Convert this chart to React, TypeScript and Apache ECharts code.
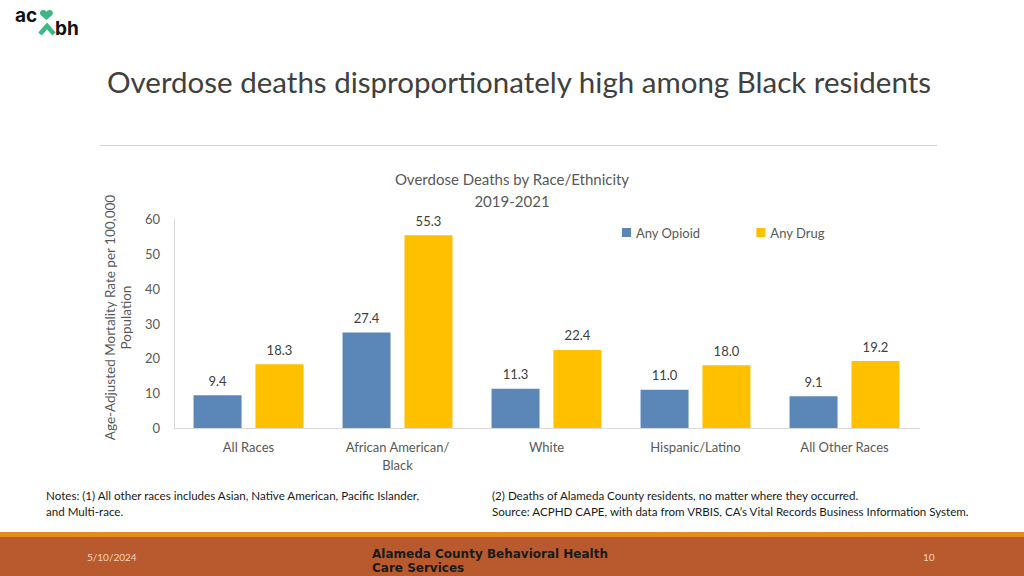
import React, { useEffect, useRef } from "react";
import * as echarts from "echarts";

const categories = ["All Races", "African American/\nBlack", "White", "Hispanic/Latino", "All Other Races"];
const anyOpioid = [9.4, 27.4, 11.3, 11.0, 9.1];
const anyDrug = [18.3, 55.3, 22.4, 18.0, 19.2];
const seriesNames = ["Any Opioid", "Any Drug"];
const yTicks = { min: 0, max: 60, interval: 10 };

const FONT = "Lato, 'Open Sans', sans-serif";

echarts.graphic.registerShape(
  "heart",
  echarts.graphic.extendPath(
    "M12 22 L3.5 13.5 C0.5 10.5 1 4 6.5 3.5 C9.5 3.2 11.2 5 12 6.8 C12.8 5 14.5 3.2 17.5 3.5 C23 4 23.5 10.5 20.5 13.5 Z",
    {}
  )
);

export default function App() {
  const ref = useRef<HTMLDivElement>(null);
  useEffect(() => {
    document.body.style.margin = "0";
    const chart = echarts.init(ref.current!, null, { renderer: "svg" });
    chart.setOption({
      animation: false,
      backgroundColor: "#ffffff",
      textStyle: { fontFamily: FONT },
      title: {
        text: "Overdose Deaths by Race/Ethnicity\n2019-2021",
        left: "center",
        top: 163,
        textStyle: { fontSize: 15, fontWeight: "normal", color: "#595959", lineHeight: 22, fontFamily: FONT },
      },
      legend: {
        data: seriesNames,
        left: 617,
        top: 221,
        itemWidth: 9,
        itemHeight: 9,
        itemGap: 56,
        icon: "rect",
        textStyle: { fontSize: 13, color: "#595959", fontFamily: FONT },
      },
      grid: { left: 174, right: 105, top: 219, bottom: 148, containLabel: false },
      xAxis: {
        type: "category",
        data: categories,
        axisLine: { show: true, lineStyle: { color: "#d9d9d9", width: 1 } },
        axisTick: { show: false },
        axisLabel: { fontSize: 13, color: "#595959", margin: 10, lineHeight: 18, fontFamily: FONT, interval: 0 },
      },
      yAxis: {
        type: "value",
        min: yTicks.min,
        max: yTicks.max,
        interval: yTicks.interval,
        axisLine: { show: true, lineStyle: { color: "#d9d9d9", width: 1 } },
        axisTick: { show: false },
        splitLine: { show: false },
        axisLabel: { fontSize: 13, color: "#595959", margin: 14, fontFamily: FONT },
        name: "Age-Adjusted Mortality Rate per 100,000\nPopulation",
        nameLocation: "middle",
        nameGap: 38,
        nameRotate: 90,
        nameTextStyle: { fontSize: 13.5, color: "#595959", lineHeight: 16, fontFamily: FONT, padding: [0, 0, 0, 12] },
      },
      series: [
        {
          name: seriesNames[0],
          type: "bar",
          data: anyOpioid,
          barWidth: 48,
          barGap: "29%",
          itemStyle: { color: "#5b86b8" },
          label: { show: true, position: "top", distance: 8, fontSize: 13, color: "#404040", formatter: (p: any) => p.value.toFixed(1), fontFamily: FONT },
        },
        {
          name: seriesNames[1],
          type: "bar",
          data: anyDrug,
          barWidth: 48,
          barGap: "29%",
          itemStyle: { color: "#ffc000" },
          label: { show: true, position: "top", distance: 8, fontSize: 13, color: "#404040", formatter: (p: any) => p.value.toFixed(1), fontFamily: FONT },
        },
      ],
      graphic: [
        // logo
        { type: "text", left: 15, top: 6, style: { text: "ac", font: "bold 19px Inter, sans-serif", fill: "#111111" } },
        { type: "heart", x: 39, y: 8, scaleX: 0.62, scaleY: 0.55, style: { fill: "#3db884" } },
        { type: "polyline", shape: { points: [[40, 34], [47, 26], [54, 34]] }, style: { stroke: "#3db884", lineWidth: 4.5, fill: "none" } },
        { type: "text", left: 55, top: 19, style: { text: "bh", font: "bold 19px Inter, sans-serif", fill: "#111111" } },
        // main title
        { type: "text", left: 107, top: 66, style: { text: "Overdose deaths disproportionately high among Black residents", font: "29.5px Lato, 'Open Sans', sans-serif", fill: "#404040" } },
        { type: "line", shape: { x1: 100, y1: 145.5, x2: 937, y2: 145.5 }, style: { stroke: "#d0d0d0", lineWidth: 1 } },
        // notes
        { type: "text", left: 46, top: 487, style: { text: "Notes: (1) All other races includes Asian, Native American, Pacific Islander,\nand Multi-race.", font: "11.6px Lato, 'Open Sans', sans-serif", fill: "#1a1a1a", lineHeight: 16 } },
        { type: "text", left: 492, top: 487, style: { text: "(2) Deaths of Alameda County residents, no matter where they occurred.\nSource: ACPHD CAPE, with data from VRBIS, CA\u2019s Vital Records Business Information System.", font: "11.6px Lato, 'Open Sans', sans-serif", fill: "#1a1a1a", lineHeight: 16 } },
        // footer band
        { type: "rect", shape: { x: 0, y: 532, width: 1024, height: 5 }, style: { fill: "#e38b1e" } },
        { type: "rect", shape: { x: 0, y: 537, width: 1024, height: 39 }, style: { fill: "#b85a2d" } },
        { type: "text", left: 87, top: 552, style: { text: "5/10/2024", font: "10px Lato, 'Open Sans', sans-serif", fill: "#f6d3bd" } },
        { type: "text", left: 923, top: 552, style: { text: "10", font: "10px Lato, 'Open Sans', sans-serif", fill: "#f6d3bd" } },
        { type: "text", left: 372, top: 548, style: { text: "Alameda County Behavioral Health", font: "bold 12px 'DejaVu Sans', sans-serif", fill: "#1a1a1a" } },
        { type: "text", left: 372, top: 562, style: { text: "Care Services", font: "bold 12px 'DejaVu Sans', sans-serif", fill: "#1a1a1a" } },
      ],
    });
    return () => chart.dispose();
  }, []);
  return <div ref={ref} style={{ position: "absolute", left: 0, top: 0, width: 1024, height: 576 }} />;
}
